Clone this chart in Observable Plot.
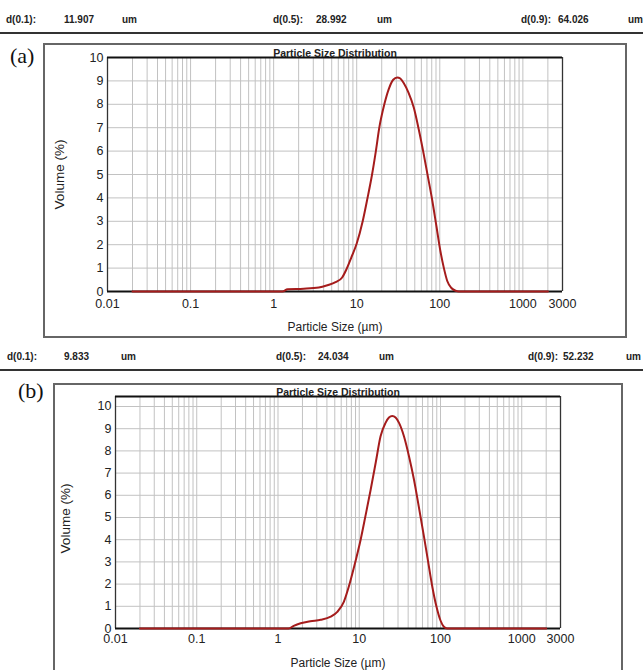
<!DOCTYPE html>
<html>
<head>
<meta charset="utf-8">
<script src="https://cdn.jsdelivr.net/npm/d3@7"></script>
<script src="https://cdn.jsdelivr.net/npm/@observablehq/plot@0.6"></script>
<style>
  html, body { margin: 0; padding: 0; background: #fff; }
  #page { position: relative; width: 643px; height: 670px; overflow: hidden; background: #fff; font-family: "Liberation Sans", Arial, sans-serif; }
  .hdr { position: absolute; font-size: 10px; font-weight: bold; color: #222; white-space: nowrap; line-height: 1; }
  .hline { position: absolute; left: 0; width: 643px; height: 2px; background: #333; }
  .box { position: absolute; border: 2px solid #666; box-sizing: border-box; }
  .tag { position: absolute; font-family: "Liberation Serif", "Times New Roman", serif; font-size: 22px; color: #111; line-height: 1; }
  .panel { position: absolute; left: 0; }
</style>
</head>
<body>
<div id="page"></div>
<script>
// ---------------- data ----------------
const headerLabels = ["d(0.1):", "d(0.5):", "d(0.9):"];
const headerValuesA = ["11.907", "28.992", "64.026"];
const headerValuesB = ["9.833", "24.034", "52.232"];
const unitLabel = "um";

const chartTitle = "Particle Size Distribution";
const xTitle = "Particle Size (µm)";
const yTitle = "Volume (%)";

const xTicks = [0.01, 0.1, 1, 10, 100, 1000, 3000];
const yTicks = [0, 1, 2, 3, 4, 5, 6, 7, 8, 9, 10];

// Panel (a)
const sizesA = [0.02, 1.28, 1.47, 2.3, 3.5, 4.45, 5.56, 6.68, 7.53, 8.6, 10, 11.8, 13.5, 15.3, 17, 18.7, 21.5, 24.3, 27.5, 30.7, 33.5, 36.9, 42, 48.7, 56, 64.2, 72, 81.1, 91, 102, 112, 123, 138, 155, 170, 2000];
const volA   = [0,    0,    0.1,  0.12, 0.17, 0.27, 0.4,  0.6,  0.95, 1.45, 2.05, 3.0, 4.0, 5.0, 6.0, 7.0, 8.0, 8.65, 9.05, 9.15, 9.1, 8.9, 8.5, 7.85, 6.9, 5.85, 4.9, 3.9, 2.8, 1.7, 1.0, 0.45, 0.15, 0.03, 0, 0];

// Panel (b)
const sizesB = [0.02, 1.35, 1.56, 1.9, 2.5, 3.35, 4.45, 5.37, 6.46, 7.46, 8.6, 10.4, 12, 13.8, 16, 18.3, 21, 23.2, 25.5, 28, 31, 35.5, 41, 47.2, 54, 62.7, 70, 79.4, 89, 100, 110, 121, 2000];
const volB   = [0,    0,    0.12, 0.24, 0.33, 0.39, 0.53, 0.75, 1.2,  1.9,  2.75, 4.0, 5.12, 6.24, 7.5, 8.66, 9.25, 9.5, 9.57, 9.5, 9.25, 8.66, 7.75, 6.7, 5.5, 4.13, 3.07, 1.87, 1.0, 0.36, 0.08, 0, 0];

const xDomain = [0.01, 3000];
const yMaxA = 10;
const yMaxB = 10.45;

// ---------------- helpers ----------------
const page = document.getElementById("page");
function addDiv(cls, css, text) {
  const d = document.createElement("div");
  d.className = cls;
  Object.assign(d.style, css);
  if (text != null) d.textContent = text;
  page.appendChild(d);
  return d;
}

// minor log grid positions (1..9 x 10^k)
const gridX = [];
for (let k = -2; k <= 3; k++) for (let m = 1; m <= 9; m++) {
  const v = +(m * Math.pow(10, k)).toPrecision(6);
  if (v >= xDomain[0] && v <= xDomain[1]) gridX.push(v);
}

function makeChart(sizes, vols, cfg) {
  const data = sizes.map((s, i) => ({size: s, vol: vols[i]}));
  return Plot.plot({
    width: 643,
    height: cfg.height,
    marginLeft: cfg.ml, marginRight: cfg.mr, marginTop: cfg.mt, marginBottom: cfg.mb,
    style: {fontFamily: '"Liberation Sans", Arial, sans-serif', fontSize: "12px", color: "#222", background: "transparent", overflow: "visible"},
    x: {type: "log", domain: xDomain, axis: null},
    y: {domain: [0, cfg.yMax], axis: null},
    marks: [
      Plot.ruleX(gridX, {stroke: "#c2c2c2", strokeWidth: 1}),
      Plot.ruleY(yTicks, {stroke: "#c2c2c2", strokeWidth: 1}),
      Plot.ruleX([xDomain[0], xDomain[1]], {stroke: "#333", strokeWidth: 1.3}),
      Plot.ruleY([0, cfg.yMax], {stroke: "#111", strokeWidth: 2}),
      Plot.line(data, {x: "size", y: "vol", stroke: "#a51c1c", strokeWidth: 2, curve: "monotone-x"}),
      Plot.text(xTicks, {x: d => d, text: d => String(d), frameAnchor: "bottom", lineAnchor: "top", dy: cfg.xpad, fontSize: 12.5, fill: "#222"}),
      Plot.text(yTicks, {y: d => d, text: d => String(d), frameAnchor: "left", textAnchor: "end", dx: -4, fontSize: 12.5, fill: "#222"}),
      Plot.text([chartTitle], {text: d => d, frameAnchor: "top", lineAnchor: "bottom", dy: -1, fontWeight: "bold", fontSize: 10.5, fill: "#222"}),
      Plot.text([xTitle], {text: d => d, frameAnchor: "bottom", lineAnchor: "middle", dy: cfg.xtDy, fontSize: 12, fill: "#222"}),
      Plot.text([yTitle], {text: d => d, frameAnchor: "left", textAnchor: "middle", rotate: -90, dx: cfg.ytDx, dy: cfg.ytDy, fontSize: 13.5, fill: "#222"})
    ]
  });
}

function header(top, values, xs) {
  const labels = [headerLabels[0], values[0], unitLabel, headerLabels[1], values[1], unitLabel, headerLabels[2], values[2], unitLabel];
  labels.forEach((t, i) => addDiv("hdr", {left: xs[i] + "px", top: top + "px"}, t));
}

// ---------------- panel (a) ----------------
header(15, headerValuesA, [6, 64, 122, 273, 316, 377, 521, 558, 628]);
addDiv("hline", {top: "32px"});
addDiv("box", {left: "43px", top: "43px", width: "584px", height: "295px"});
addDiv("tag", {left: "10px", top: "45px"}, "(a)");
const chartA = makeChart(sizesA, volA, {height: 340, ml: 107, mr: 81, mt: 57, mb: 49, yMax: yMaxA, xpad: 8, xtDy: 36, ytDx: -48, ytDy: 0});
chartA.classList.add("panel");
chartA.style.top = "0px";
page.appendChild(chartA);

// ---------------- panel (b) ----------------
header(352, headerValuesB, [7, 64, 121, 276, 318, 379, 528, 563, 626]);
addDiv("hline", {top: "369px"});
addDiv("box", {left: "53px", top: "383px", width: "570px", height: "320px"});
addDiv("tag", {left: "18px", top: "380px"}, "(b)");
const chartB = makeChart(sizesB, volB, {height: 330, ml: 115, mr: 83, mt: 56, mb: 42, yMax: yMaxB, xpad: 6, xtDy: 35, ytDx: -50, ytDy: 6});
chartB.classList.add("panel");
chartB.style.top = "340px";
page.appendChild(chartB);
</script>
</body>
</html>
